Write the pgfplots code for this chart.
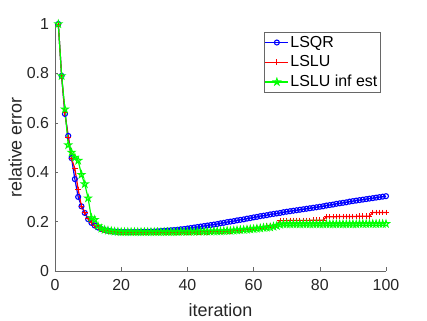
\documentclass[border=0pt]{standalone}
\usepackage{fontspec}
\setmainfont{Liberation Sans}
\usepackage{pgfplots}
\pgfplotsset{compat=1.18}
\pgfdeclareplotmark{pentagram}{%
  \pgfpathmoveto{\pgfpointpolar{90}{\pgfplotmarksize}}%
  \pgfpathlineto{\pgfpointpolar{126}{0.382\pgfplotmarksize}}%
  \pgfpathlineto{\pgfpointpolar{162}{\pgfplotmarksize}}%
  \pgfpathlineto{\pgfpointpolar{198}{0.382\pgfplotmarksize}}%
  \pgfpathlineto{\pgfpointpolar{234}{\pgfplotmarksize}}%
  \pgfpathlineto{\pgfpointpolar{270}{0.382\pgfplotmarksize}}%
  \pgfpathlineto{\pgfpointpolar{306}{\pgfplotmarksize}}%
  \pgfpathlineto{\pgfpointpolar{342}{0.382\pgfplotmarksize}}%
  \pgfpathlineto{\pgfpointpolar{18}{\pgfplotmarksize}}%
  \pgfpathlineto{\pgfpointpolar{54}{0.382\pgfplotmarksize}}%
  \pgfpathclose\pgfusepathqstroke}
\pgfplotstableread{
it lsqr lslu inf
1 1.000 1.000 1.000
2 0.790 0.790 0.790
3 0.636 0.640 0.655
4 0.547 0.540 0.510
5 0.457 0.455 0.480
6 0.372 0.415 0.460
7 0.300 0.330 0.447
8 0.262 0.262 0.390
9 0.235 0.237 0.352
10 0.210 0.212 0.295
11 0.195 0.196 0.215
12 0.184 0.185 0.208
13 0.176 0.177 0.182
14 0.170 0.171 0.172
15 0.166 0.166 0.167
16 0.163 0.163 0.164
17 0.161 0.161 0.162
18 0.160 0.160 0.160
19 0.159 0.159 0.159
20 0.158 0.158 0.158
21 0.158 0.158 0.158
22 0.158 0.158 0.158
23 0.158 0.158 0.158
24 0.158 0.158 0.158
25 0.158 0.158 0.158
26 0.159 0.158 0.158
27 0.159 0.158 0.158
28 0.159 0.158 0.158
29 0.160 0.158 0.158
30 0.160 0.158 0.158
31 0.161 0.158 0.158
32 0.162 0.158 0.158
33 0.163 0.158 0.158
34 0.164 0.158 0.158
35 0.165 0.158 0.158
36 0.166 0.158 0.158
37 0.167 0.158 0.158
38 0.169 0.158 0.159
39 0.170 0.158 0.159
40 0.172 0.158 0.159
41 0.174 0.158 0.159
42 0.176 0.158 0.159
43 0.178 0.158 0.160
44 0.180 0.159 0.160
45 0.182 0.159 0.160
46 0.184 0.159 0.160
47 0.186 0.160 0.160
48 0.188 0.160 0.161
49 0.190 0.161 0.161
50 0.193 0.161 0.161
51 0.195 0.162 0.162
52 0.198 0.162 0.163
53 0.200 0.163 0.163
54 0.202 0.164 0.164
55 0.205 0.166 0.165
56 0.207 0.167 0.166
57 0.209 0.168 0.167
58 0.212 0.169 0.168
59 0.214 0.171 0.169
60 0.217 0.173 0.170
61 0.219 0.175 0.172
62 0.222 0.178 0.173
63 0.224 0.180 0.175
64 0.226 0.182 0.176
65 0.229 0.184 0.177
66 0.231 0.186 0.180
67 0.233 0.188 0.183
68 0.235 0.204 0.188
69 0.238 0.204 0.190
70 0.240 0.204 0.190
71 0.242 0.205 0.190
72 0.244 0.205 0.190
73 0.246 0.205 0.190
74 0.248 0.205 0.190
75 0.250 0.205 0.190
76 0.252 0.205 0.190
77 0.254 0.205 0.190
78 0.256 0.206 0.190
79 0.258 0.206 0.190
80 0.260 0.206 0.190
81 0.262 0.206 0.190
82 0.265 0.220 0.190
83 0.267 0.220 0.190
84 0.269 0.220 0.190
85 0.272 0.220 0.190
86 0.274 0.221 0.190
87 0.276 0.221 0.190
88 0.278 0.221 0.190
89 0.281 0.221 0.190
90 0.283 0.221 0.190
91 0.285 0.221 0.190
92 0.287 0.222 0.191
93 0.289 0.222 0.191
94 0.291 0.222 0.191
95 0.293 0.222 0.191
96 0.295 0.237 0.191
97 0.297 0.237 0.191
98 0.299 0.237 0.191
99 0.301 0.237 0.191
100 0.303 0.237 0.191
}\datatable
\definecolor{axgray}{rgb}{0.15,0.15,0.15}
\begin{document}
\begin{tikzpicture}
\useasboundingbox (-55bp,-50bp) rectangle (372bp,271bp);
\begin{axis}[
  at={(0,0)}, anchor=south west,
  scale only axis, width=331bp, height=247bp,
  xmin=0, xmax=100, ymin=0, ymax=1,
  axis x line=bottom, axis y line=left,
  axis line style={-, draw=axgray!70, line width=0.5bp},
  tick style={draw=axgray!70, line width=0.5bp},
  tick align=inside, major tick length=3.5bp,
  xtick={0,20,...,100}, ytick={0,0.2,0.4,0.6,0.8,1},
  /pgf/number format/assume math mode=true,
  yticklabel style={/pgf/number format/fixed, /pgf/number format/precision=1, xshift=-2.5bp},
  xticklabel style={yshift=-5bp},
  ticklabel style={font=\fontsize{16}{19}\selectfont, text=axgray},
  xlabel={iteration}, ylabel={relative error},
  label style={font=\fontsize{18}{21}\selectfont, text=axgray},
  xlabel style={at={(axis description cs:0.5,-0.16)}, anchor=center},
  ylabel style={at={(axis description cs:-0.12,0.5)}, anchor=center},
  legend cell align=left,
  legend style={at={(axis description cs:1,1)}, anchor=north east, xshift=-6bp, yshift=-8bp,
    draw=axgray!70, fill=white, font=\fontsize{16}{18}\selectfont, text=black,
    inner xsep=1bp, inner ysep=1bp, row sep=1bp,
    nodes={inner xsep=1.5bp, inner ysep=3bp}},
  legend image code/.code={\draw[mark repeat=2,mark phase=2,#1] plot coordinates {(0bp,0bp) (11.5bp,0bp) (23bp,0bp)};},
]
\addplot[color=blue, line width=1.2bp, mark=o, mark size=2.5bp, mark options={line width=1.1bp}] table[x=it, y=lsqr] {\datatable};
\addlegendentry{LSQR}
\addplot[color=red, line width=1.2bp, mark=+, mark size=2.8bp, mark options={line width=0.9bp}] table[x=it, y=lslu] {\datatable};
\addlegendentry{LSLU}
\addplot[color=green, line width=1.2bp, mark=pentagram, mark size=3.6bp, mark options={line width=1bp, line join=miter}] table[x=it, y=inf] {\datatable};
\addlegendentry{LSLU inf est}
\end{axis}
\end{tikzpicture}
\end{document}
